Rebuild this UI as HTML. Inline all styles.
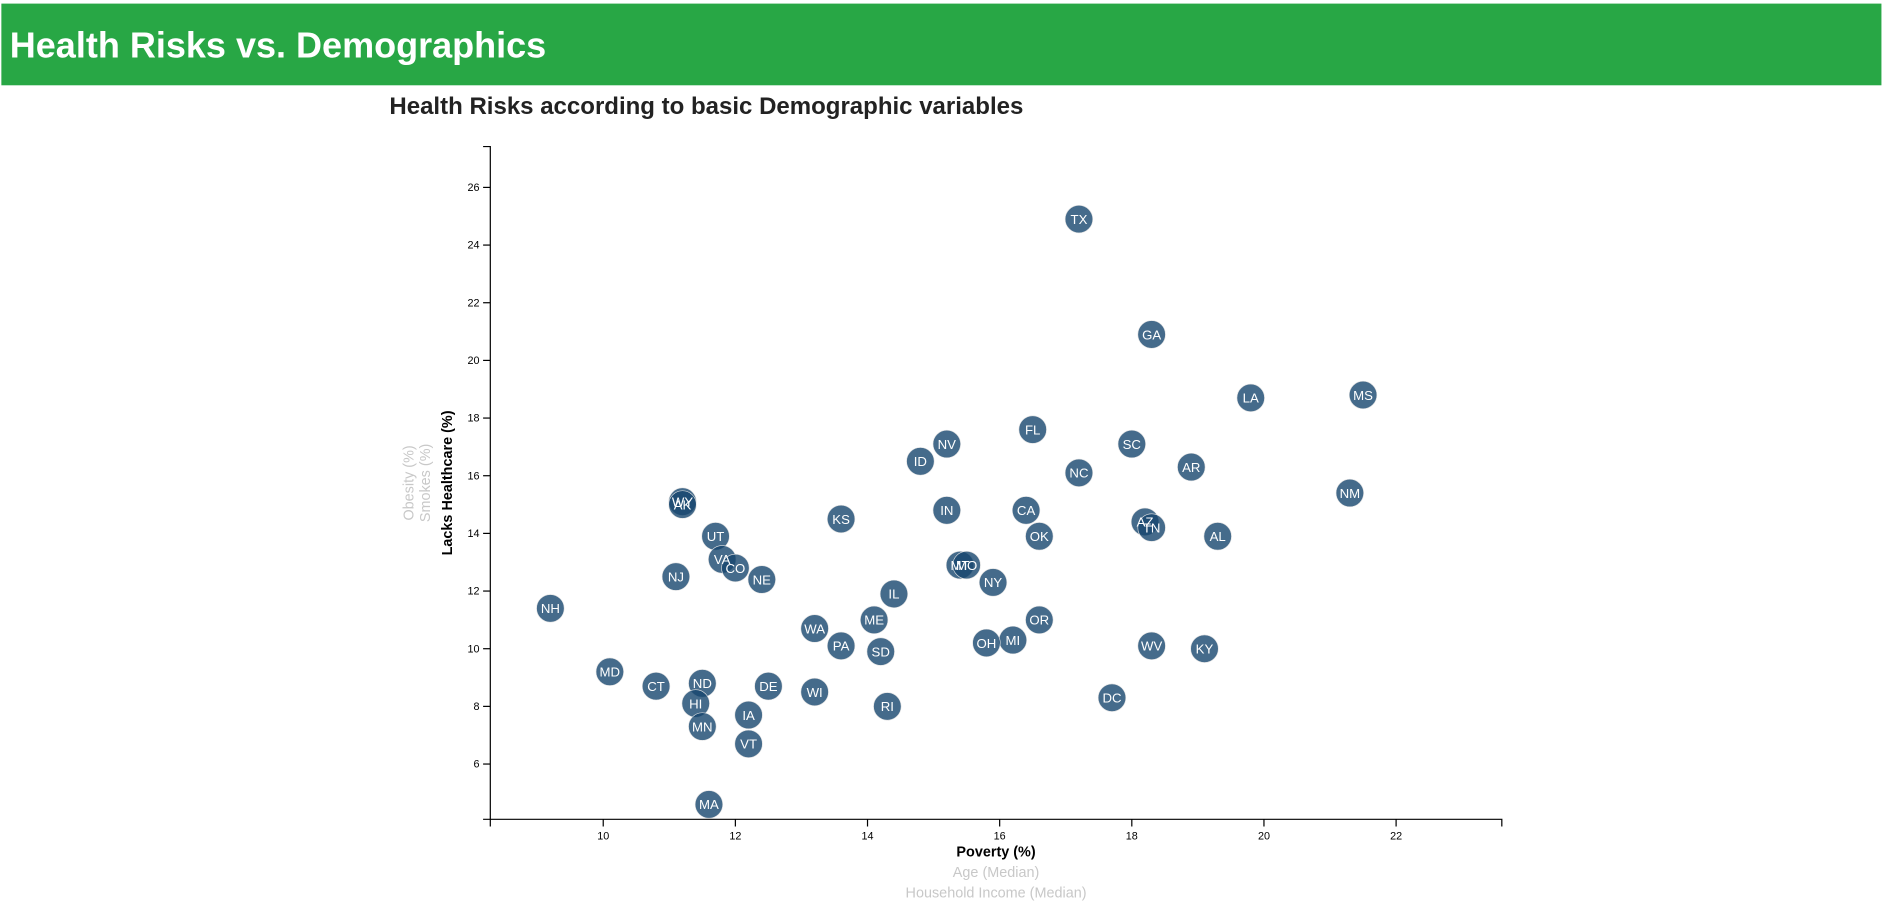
<!DOCTYPE html>
<html><head><meta charset="utf-8"><style>
html,body{margin:0;padding:0;background:#fff;width:1884px;height:907px;overflow:hidden}
svg{display:block}
text{font-family:"Liberation Sans",sans-serif}
</style></head><body>
<svg id="root" width="1884" height="907" viewBox="0 0 1568 755">
<rect x="1" y="3" width="1565" height="68" fill="#28a745"/>
<text x="8" y="48" font-size="30" font-weight="bold" fill="#fff">Health Risks vs. Demographics</text>
<text x="324" y="95" font-size="20" font-weight="bold" fill="#222">Health Risks according to basic Demographic variables</text>
<g id="plot"></g>
<text transform="translate(376,402) rotate(-90)" text-anchor="middle" font-size="12" font-weight="bold" fill="#000">Lacks Healthcare (%)</text>
<text transform="translate(358,402) rotate(-90)" text-anchor="middle" font-size="12" fill="#c8c8c8">Smokes (%)</text>
<text transform="translate(344,402) rotate(-90)" text-anchor="middle" font-size="12" fill="#c8c8c8">Obesity (%)</text>
<text x="829" y="713" text-anchor="middle" font-size="12" font-weight="bold" fill="#000">Poverty (%)</text>
<text x="829" y="730" text-anchor="middle" font-size="12" fill="#c8c8c8">Age (Median)</text>
<text x="829" y="747" text-anchor="middle" font-size="12" fill="#c8c8c8">Household Income (Median)</text>
</svg>
<script>
const states=["TX","GA","LA","MS","FL","SC","NV","ID","AR","NC","NM","WY","AK","KS","IN","CA","AZ","TN","AL","OK","UT","VA","CO","NE","NJ","MT","MO","NY","IL","NH","OR","ME","WA","MI","OH","PA","SD","WV","KY","MD","CT","ND","DE","WI","HI","RI","DC","IA","MN","VT","MA"];
const poverty=[17.2,18.3,19.8,21.5,16.5,18.0,15.2,14.8,18.9,17.2,21.3,11.2,11.2,13.6,15.2,16.4,18.2,18.3,19.3,16.6,11.7,11.8,12.0,12.4,11.1,15.4,15.5,15.9,14.4,9.2,16.6,14.1,13.2,16.2,15.8,13.6,14.2,18.3,19.1,10.1,10.8,11.5,12.5,13.2,11.4,14.3,17.7,12.2,11.5,12.2,11.6];
const healthcare=[24.9,20.9,18.7,18.8,17.6,17.1,17.1,16.5,16.3,16.1,15.4,15.1,15.0,14.5,14.8,14.8,14.4,14.2,13.9,13.9,13.9,13.1,12.8,12.4,12.5,12.9,12.9,12.3,11.9,11.4,11.0,11.0,10.7,10.3,10.2,10.1,9.9,10.1,10.0,9.2,8.7,8.8,8.7,8.5,8.1,8.0,8.3,7.7,7.3,6.7,4.6];
const xTicks=[10,12,14,16,18,20,22];
const yTicks=[6,8,10,12,14,16,18,20,22,24,26];
const NS="http://www.w3.org/2000/svg";
const L=408,R=1250,T=122,B=682;
const x=v=>502+(v-10)*55;
const y=v=>156+(26-v)*24;
const g=document.getElementById('plot');
function mk(t,a){const e=document.createElementNS(NS,t);for(const k in a)e.setAttribute(k,a[k]);g.appendChild(e);return e;}
let e=mk('path',{d:`M${L-6},${T}H${L}V${B}H${L-6}`,fill:'none',stroke:'#000'});


e=mk('path',{d:`M${L},${B+6}V${B}H${R}V${B+6}`,fill:'none',stroke:'#000'});


xTicks.forEach(v=>{
  const t=mk('line',{x1:x(v),x2:x(v),y1:B,y2:B+6,stroke:'#000'});
  
  
  const l=mk('text',{x:x(v),y:B+17,'text-anchor':'middle','font-size':'9',fill:'#000'});
  l.textContent=v;
  
  
});
yTicks.forEach(v=>{
  const t=mk('line',{x1:L-6,x2:L,y1:y(v),y2:y(v),stroke:'#000'});
  
  
  const l=mk('text',{x:L-9,y:y(v)+3,'text-anchor':'end','font-size':'9',fill:'#000'});
  l.textContent=v;
  
  
});
states.forEach((s,i)=>{
  const c=mk('circle',{cx:x(poverty[i]),cy:y(healthcare[i]),r:11.5,fill:'#17466e','fill-opacity':0.8,stroke:'#e3e3e3','stroke-width':0.5});
  
  
});
states.forEach((s,i)=>{
  const t=mk('text',{x:x(poverty[i]),y:y(healthcare[i])+4,'text-anchor':'middle','font-size':'11',fill:'#fff'});
  t.textContent=s;
  
  
});
</script>
</body></html>
